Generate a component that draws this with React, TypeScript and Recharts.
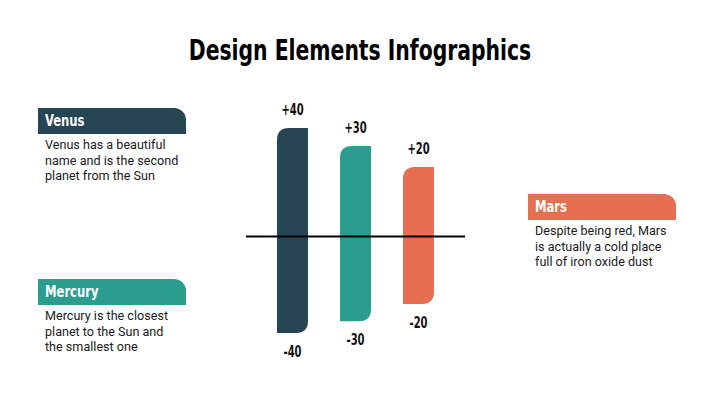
import { Bar, BarChart, ReferenceLine, XAxis, YAxis } from "recharts";

// Three planets, each bar runs from its negative value up to its positive one.
const planets = ["Venus", "Mercury", "Mars"];
const upperLabels = [40, 30, 20];
const lowerLabels = [-40, -30, -20];

// The design doesn't draw the bars to scale, so the drawn reach is read off the picture separately.
const upperReach = [40, 33.4, 25.6];
const lowerReach = [-35.6, -31.2, -24.9];

const colors = ["#264653", "#2a9d8f", "#e76f51"];

const notes = [
  ["Venus has a beautiful", "name and is the second", "planet from the Sun"],
  ["Mercury is the closest", "planet to the Sun and", "the smallest one"],
  ["Despite being red, Mars", "is actually a cold place", "full of iron oxide dust"],
];

const data = planets.map((name, i) => ({
  name,
  range: [lowerReach[i], upperReach[i]],
}));

const NARROW = "'DejaVu Sans Condensed', 'DejaVu Sans', sans-serif";
const BODY = "Roboto, 'Noto Sans', sans-serif";

// Bar with only the top-left and bottom-right corners rounded, plus its two value labels.
const PillBar = (props: any) => {
  const { x, y, width, height, index } = props;
  const top = Math.min(y, y + height);
  const h = Math.abs(height);
  const r = Math.min(12, width / 2, h / 2);
  const right = x + width;
  const bottom = top + h;
  const d = [
    `M ${x} ${top + r}`,
    `Q ${x} ${top} ${x + r} ${top}`,
    `L ${right} ${top}`,
    `L ${right} ${bottom - r}`,
    `Q ${right} ${bottom} ${right - r} ${bottom}`,
    `L ${x} ${bottom}`,
    "Z",
  ].join(" ");
  const cx = x + width / 2;
  const labelStyle = { fontFamily: NARROW, fontWeight: 700, fontSize: 15, fill: "#111" };
  return (
    <g>
      <path d={d} fill={colors[index]} />
      <g transform={`translate(${cx},${top - 18}) scale(0.74,1)`}>
        <text x={0} y={0} textAnchor="middle" dominantBaseline="central" style={labelStyle}>
          {`+${upperLabels[index]}`}
        </text>
      </g>
      <g transform={`translate(${cx},${bottom + 19}) scale(0.74,1)`}>
        <text x={0} y={0} textAnchor="middle" dominantBaseline="central" style={labelStyle}>
          {`${lowerLabels[index]}`}
        </text>
      </g>
    </g>
  );
};

const Card = ({ left, top, index }: { left: number; top: number; index: number }) => (
  <div style={{ position: "absolute", left, top, width: 148 }}>
    <div
      style={{
        height: 26,
        background: colors[index],
        borderTopRightRadius: 12,
        paddingLeft: 7,
        overflow: "hidden",
      }}
    >
      <span
        style={{
          display: "inline-block",
          transform: "scaleX(0.78)",
          transformOrigin: "left center",
          color: "#fff",
          fontFamily: NARROW,
          fontWeight: 700,
          fontSize: 16.5,
          lineHeight: "26px",
        }}
      >
        {planets[index]}
      </span>
    </div>
    <div
      style={{
        marginTop: 3,
        paddingLeft: 7,
        fontFamily: BODY,
        fontSize: 12.6,
        lineHeight: "15.5px",
        color: "#1b1b1b",
        whiteSpace: "nowrap",
      }}
    >
      {notes[index].map((line) => (
        <div key={line}>{line}</div>
      ))}
    </div>
  </div>
);

export default function App() {
  return (
    <div
      style={{
        position: "absolute",
        left: 0,
        top: 0,
        width: 720,
        height: 405,
        background: "#fff",
        overflow: "hidden",
      }}
    >
      <div
        style={{
          position: "absolute",
          left: 0,
          top: 32,
          width: 720,
          textAlign: "center",
          fontFamily: NARROW,
          fontWeight: 700,
          fontSize: 29,
          lineHeight: "36px",
          color: "#000",
          transform: "scaleX(0.78)",
          transformOrigin: "360px center",
        }}
      >
        Design Elements Infographics
      </div>

      <Card left={38} top={108} index={0} />
      <Card left={38} top={279} index={1} />
      <Card left={528} top={194} index={2} />

      <div style={{ position: "absolute", left: 246, top: 0 }}>
        <BarChart width={219} height={405} data={data} margin={{ top: 0, right: 0, bottom: 0, left: 0 }} barSize={31}>
          <XAxis dataKey="name" hide padding={{ left: 15, right: 15 }} />
          <YAxis hide type="number" domain={[-62.1, 87.2]} allowDataOverflow scale="linear" />
          <Bar dataKey="range" shape={<PillBar />} isAnimationActive={false} />
          <ReferenceLine y={0} stroke="#000" strokeWidth={2} />
        </BarChart>
      </div>
    </div>
  );
}
